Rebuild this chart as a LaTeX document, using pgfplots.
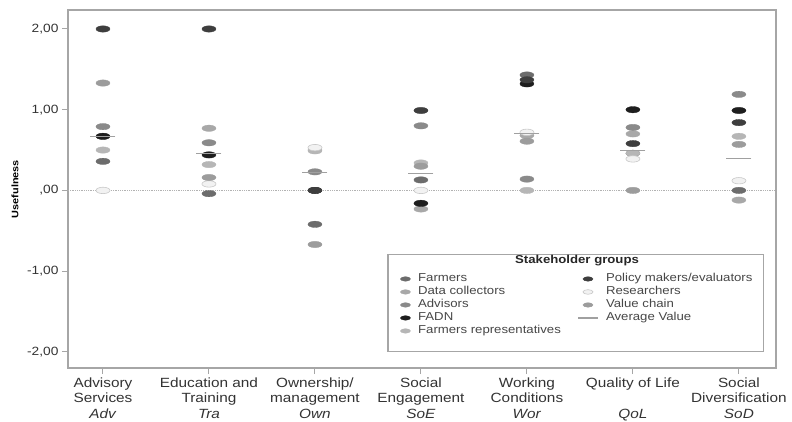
\documentclass[border=0pt]{standalone}
\usepackage{pgfplots}
\pgfplotsset{compat=1.18}
\usepackage{fontspec}
\setmainfont{Liberation Sans}[FakeStretch=1.15]

\definecolor{cFarm}{HTML}{6C6C6C}
\definecolor{cData}{HTML}{A8A8A8}
\definecolor{cAdv}{HTML}{8A8A8A}
\definecolor{cFADN}{HTML}{1E1E1E}
\definecolor{cRep}{HTML}{B6B6B6}
\definecolor{cPol}{HTML}{3E3E3E}
\definecolor{cRes}{HTML}{F2F2F2}
\definecolor{cResEdge}{HTML}{C8C8C8}
\definecolor{cVal}{HTML}{9C9C9C}
\definecolor{cAvg}{HTML}{A0A0A0}
\definecolor{cFrame}{HTML}{A6A6A6}

% flat ellipse mark, 2.2 times wider than high
\pgfdeclareplotmark{ell}{%
  \pgfpathellipse{\pgfpointorigin}{\pgfqpoint{2.2\pgfplotmarksize}{0pt}}{\pgfqpoint{0pt}{\pgfplotmarksize}}%
  \pgfusepathqfillstroke}
\pgfplotsset{dot/.style={only marks, mark=ell, mark size=3.2bp, mark options={line width=0.3bp}}}

\begin{document}
\begin{tikzpicture}
\begin{axis}[
  scale only axis, width=708bp, height=358bp,
  at={(0,0)}, anchor=south west,
  xmin=0.67, xmax=7.35, ymin=-2.2, ymax=2.235,
  xtick={1,2,3,4,5,6,7},
  xticklabels={{Advisory\\Services\\\textit{Adv}},
               {Education and\\Training\\\textit{Tra}},
               {Ownership/\\management\\\textit{Own}},
               {Social\\Engagement\\\textit{SoE}},
               {Working\\Conditions\\\textit{Wor}},
               {Quality of Life\\\mbox{}\\\textit{QoL}},
               {Social\\Diversification\\\textit{SoD}}},
  ytick={-2,-1,0,1,2},
  yticklabels={{-2,00},{-1,00},{,00},{1,00},{2,00}},
  tick align=outside, tick pos=left,
  major tick length=6bp,
  axis line style={draw=cFrame, line width=1.3bp},
  every tick/.style={cFrame, line width=1bp},
  xticklabel style={align=center, font=\fontsize{13.4}{15.5}\selectfont, text=black!80},
  yticklabel style={font=\fontsize{12}{14}\selectfont, text=black!80},
  ylabel={Usefulness},
  every axis y label/.style={at={([xshift=-53bp]rel axis cs:0,0.5)}, rotate=90, anchor=center,
    font=\bfseries\fontsize{9.5}{11}\selectfont},
  legend style={at={(rel axis cs:0.465,0.273)}, anchor=north west, draw=none, fill=none,
    font=\fontsize{11.5}{13}\selectfont, text=black!72,
    nodes={inner sep=0.6bp, text height=8.8bp, text depth=3bp},
    /tikz/every odd column/.append style={column sep=7bp},
    /tikz/every even column/.append style={column sep=16bp}},
  legend columns=5, transpose legend, legend cell align=left,
  legend image post style={mark size=2.3bp},
]
\draw[densely dotted, black!30, line width=0.8bp] ({rel axis cs:0,0}|-{axis cs:1,0}) -- ({rel axis cs:1,0}|-{axis cs:1,0});

\addplot[dot, color=cFarm]
  coordinates {(1,0.36) (2,-0.04) (3,-0.42) (4,0.13) (5,1.43) (6,0.46) (7,0.00)};
\addlegendentry{Farmers}
\addplot[dot, color=cData]
  coordinates {(1,0.67) (2,0.77) (3,0.50) (4,-0.23) (5,0.68) (6,0.70) (7,-0.12)};
\addlegendentry{Data collectors}
\addplot[dot, color=cAdv]
  coordinates {(1,0.79) (2,0.59) (3,0.23) (4,0.80) (5,0.14) (6,0.78) (7,1.19)};
\addlegendentry{Advisors}
\addplot[dot, color=cFADN]
  coordinates {(1,0.67) (2,0.44) (3,0.00) (4,-0.16) (5,1.32) (6,1.00) (7,0.99)};
\addlegendentry{FADN}
\addplot[dot, color=cRep]
  coordinates {(1,0.50) (2,0.32) (3,0.49) (4,0.34) (5,0.00) (6,0.46) (7,0.67)};
\addlegendentry{Farmers representatives}
\addplot[dot, color=cPol]
  coordinates {(1,2.00) (2,2.00) (3,0.00) (4,0.99) (5,1.37) (6,0.58) (7,0.84)};
\addlegendentry{Policy makers/evaluators}
\addplot[dot, color=cResEdge, fill=cRes, mark options={line width=0.6bp, fill=cRes}]
  coordinates {(1,0.00) (2,0.08) (3,0.53) (4,0.00) (5,0.72) (6,0.39) (7,0.12)};
\addlegendentry{Researchers}
\addplot[dot, color=cVal]
  coordinates {(1,1.33) (2,0.16) (3,-0.67) (4,0.30) (5,0.61) (6,0.00) (7,0.57)};
\addlegendentry{Value chain}
\addplot[only marks, color=cAvg, mark=-, mark size=12.5bp, mark options={line width=1.1bp},
  legend image code/.code={\draw[cAvg, line width=1.1bp] (-0.05cm,0cm) -- (0.65cm,0cm);}]
  coordinates {(1,0.67) (2,0.46) (3,0.22) (4,0.21) (5,0.70) (6,0.49) (7,0.40)};
\addlegendentry{Average Value}

\draw[cFrame, line width=1.2bp, fill=white] (rel axis cs:0.452,0.045) rectangle (rel axis cs:0.982,0.318);
\node[font=\bfseries\fontsize{11.5}{12}\selectfont, text=black!85] at (rel axis cs:0.719,0.299) {Stakeholder groups};
\end{axis}
\pgfresetboundingbox
\path (-68bp,-54bp) rectangle (724bp,368bp);
\end{tikzpicture}
\end{document}
